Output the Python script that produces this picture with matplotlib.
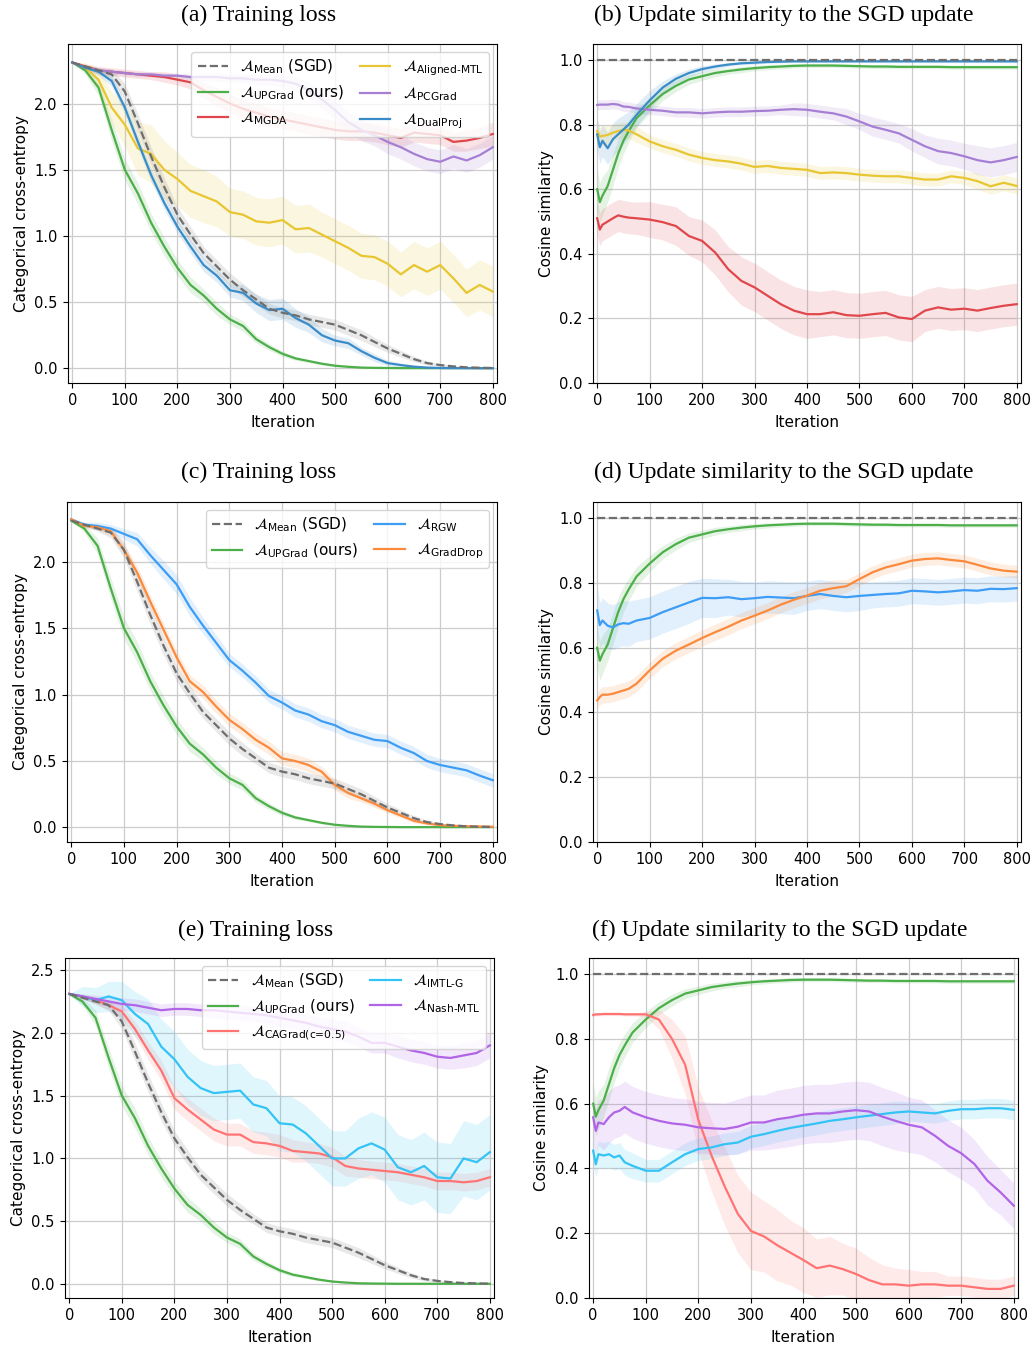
import numpy as np
import matplotlib
matplotlib.use('Agg')
import matplotlib.pyplot as plt

loss_x = list(range(0, 801, 25))
sim_x = [0, 5, 10, 20, 30, 40, 50, 60, 75] + list(range(100, 801, 25))

# ---- training loss (shared by a, c, e) ----
mean_loss = [2.31, 2.28, 2.25, 2.22, 2.09, 1.85, 1.60, 1.37, 1.16, 1.01, 0.87, 0.77, 0.67, 0.59, 0.52, 0.45, 0.42,
             0.40, 0.37, 0.35, 0.33, 0.29, 0.25, 0.20, 0.15, 0.11, 0.07, 0.04, 0.025, 0.015, 0.008, 0.005, 0.003]
mean_loss_band = [0.0, 0.01, 0.02, 0.04, 0.06, 0.07, 0.07, 0.07, 0.06, 0.06, 0.05, 0.05, 0.05, 0.05, 0.04, 0.04, 0.04,
                  0.04, 0.04, 0.04, 0.04, 0.04, 0.04, 0.035, 0.03, 0.025, 0.02, 0.015, 0.01, 0.008, 0.005, 0.004, 0.003]
upgrad_loss = [2.31, 2.25, 2.12, 1.80, 1.50, 1.32, 1.10, 0.92, 0.76, 0.63, 0.55, 0.45, 0.37, 0.32, 0.22, 0.16, 0.11,
               0.075, 0.055, 0.035, 0.02, 0.012, 0.006, 0.004, 0.003, 0.002, 0.002, 0.002, 0.002, 0.002, 0.002, 0.002, 0.002]
upgrad_loss_band = [0.0, 0.03, 0.06, 0.08, 0.08, 0.08, 0.07, 0.07, 0.06, 0.06, 0.05, 0.05, 0.04, 0.04, 0.03, 0.025, 0.02,
                    0.015, 0.012, 0.01, 0.008, 0.006, 0.005, 0.004, 0.003, 0.003, 0.003, 0.003, 0.003, 0.003, 0.003, 0.003, 0.003]

# (a)
mgda_loss = [2.31, 2.28, 2.25, 2.24, 2.23, 2.22, 2.21, 2.20, 2.18, 2.16, 2.10, 2.05, 2.00, 1.96, 1.93, 1.90, 1.88,
             1.86, 1.84, 1.82, 1.80, 1.79, 1.79, 1.78, 1.76, 1.74, 1.78, 1.77, 1.76, 1.71, 1.72, 1.74, 1.77]
mgda_loss_band = [0.0, 0.02, 0.03, 0.03, 0.03, 0.03, 0.03, 0.04, 0.04, 0.05, 0.06, 0.07, 0.07, 0.07, 0.07, 0.07, 0.07,
                  0.07, 0.07, 0.07, 0.07, 0.07, 0.07, 0.07, 0.07, 0.07, 0.07, 0.07, 0.07, 0.07, 0.08, 0.08, 0.09]
aligned_loss = [2.31, 2.27, 2.18, 1.97, 1.84, 1.66, 1.62, 1.50, 1.43, 1.34, 1.30, 1.26, 1.18, 1.16, 1.11, 1.10, 1.12,
                1.05, 1.06, 1.01, 0.96, 0.91, 0.85, 0.84, 0.79, 0.71, 0.78, 0.73, 0.78, 0.68, 0.57, 0.63, 0.58]
aligned_loss_band = [0.0, 0.04, 0.08, 0.12, 0.16, 0.2, 0.22, 0.22, 0.2, 0.2, 0.2, 0.19, 0.18, 0.18, 0.18, 0.18, 0.18,
                     0.18, 0.18, 0.17, 0.17, 0.17, 0.17, 0.17, 0.17, 0.17, 0.18, 0.18, 0.18, 0.18, 0.18, 0.19, 0.19]
pcgrad_loss = [2.31, 2.27, 2.25, 2.24, 2.23, 2.22, 2.22, 2.21, 2.21, 2.20, 2.20, 2.20, 2.19, 2.19, 2.18, 2.18, 2.17,
               2.15, 2.10, 2.03, 1.95, 1.86, 1.80, 1.76, 1.71, 1.67, 1.62, 1.58, 1.56, 1.60, 1.57, 1.61, 1.67]
pcgrad_loss_band = [0.0, 0.02, 0.02, 0.02, 0.02, 0.02, 0.02, 0.02, 0.02, 0.02, 0.03, 0.03, 0.03, 0.03, 0.04, 0.04, 0.05,
                    0.05, 0.06, 0.07, 0.07, 0.08, 0.08, 0.08, 0.09, 0.09, 0.09, 0.09, 0.09, 0.09, 0.09, 0.09, 0.09]
dualproj_loss = [2.31, 2.27, 2.24, 2.17, 1.97, 1.71, 1.46, 1.25, 1.07, 0.92, 0.78, 0.70, 0.59, 0.57, 0.49, 0.44, 0.45,
                 0.38, 0.33, 0.25, 0.21, 0.19, 0.13, 0.08, 0.04, 0.025, 0.013, 0.006, 0.003, 0.002, 0.002, 0.001, 0.001]
dualproj_loss_band = [0.0, 0.02, 0.03, 0.04, 0.05, 0.05, 0.05, 0.05, 0.05, 0.05, 0.05, 0.05, 0.05, 0.06, 0.07, 0.08, 0.08,
                      0.07, 0.06, 0.05, 0.04, 0.04, 0.03, 0.03, 0.02, 0.015, 0.01, 0.008, 0.005, 0.004, 0.003, 0.002, 0.002]

# (c)
rgw_loss = [2.32, 2.28, 2.27, 2.25, 2.21, 2.17, 2.05, 1.94, 1.83, 1.66, 1.52, 1.39, 1.26, 1.18, 1.09, 0.99, 0.94,
            0.88, 0.85, 0.80, 0.77, 0.72, 0.69, 0.66, 0.65, 0.60, 0.56, 0.50, 0.47, 0.45, 0.43, 0.39, 0.355]
rgw_loss_band = [0.0, 0.02, 0.03, 0.03, 0.04, 0.05, 0.06, 0.07, 0.07, 0.07, 0.06, 0.06, 0.05, 0.05, 0.05, 0.05, 0.05,
                 0.05, 0.05, 0.05, 0.05, 0.05, 0.05, 0.05, 0.05, 0.05, 0.05, 0.05, 0.05, 0.05, 0.05, 0.05, 0.05]
graddrop_loss = [2.32, 2.27, 2.26, 2.23, 2.09, 1.92, 1.70, 1.49, 1.28, 1.10, 1.02, 0.91, 0.81, 0.74, 0.66, 0.60, 0.52,
                 0.50, 0.47, 0.42, 0.32, 0.26, 0.22, 0.18, 0.13, 0.09, 0.05, 0.03, 0.017, 0.012, 0.009, 0.007, 0.005]
graddrop_loss_band = [0.0, 0.02, 0.02, 0.03, 0.04, 0.05, 0.05, 0.05, 0.05, 0.05, 0.05, 0.05, 0.05, 0.05, 0.05, 0.05, 0.05,
                      0.05, 0.05, 0.04, 0.04, 0.04, 0.03, 0.03, 0.02, 0.02, 0.015, 0.01, 0.008, 0.005, 0.004, 0.003, 0.003]

# (e)
cagrad_loss = [2.31, 2.29, 2.26, 2.22, 2.17, 2.03, 1.86, 1.70, 1.48, 1.39, 1.31, 1.23, 1.19, 1.19, 1.13, 1.12, 1.10,
               1.06, 1.05, 1.04, 1.01, 0.94, 0.92, 0.91, 0.90, 0.89, 0.87, 0.85, 0.82, 0.82, 0.81, 0.82, 0.85]
cagrad_loss_band = [0.0, 0.02, 0.03, 0.04, 0.05, 0.06, 0.07, 0.08, 0.09, 0.09, 0.09, 0.09, 0.09, 0.09, 0.09, 0.09, 0.09,
                    0.09, 0.08, 0.08, 0.08, 0.08, 0.07, 0.07, 0.07, 0.07, 0.07, 0.07, 0.07, 0.07, 0.07, 0.07, 0.07]
imtl_loss = [2.31, 2.29, 2.26, 2.29, 2.26, 2.15, 2.07, 1.89, 1.79, 1.65, 1.56, 1.52, 1.53, 1.54, 1.43, 1.40, 1.28,
             1.27, 1.20, 1.10, 1.00, 1.00, 1.08, 1.12, 1.07, 0.93, 0.89, 0.94, 0.85, 0.84, 1.00, 0.97, 1.05]
imtl_loss_band = [0.0, 0.08, 0.1, 0.12, 0.15, 0.18, 0.2, 0.22, 0.22, 0.22, 0.22, 0.22, 0.22, 0.22, 0.22, 0.22, 0.22,
                  0.22, 0.22, 0.22, 0.22, 0.22, 0.24, 0.25, 0.26, 0.26, 0.26, 0.27, 0.28, 0.28, 0.3, 0.3, 0.3]
nash_loss = [2.31, 2.29, 2.27, 2.25, 2.23, 2.22, 2.20, 2.18, 2.19, 2.19, 2.18, 2.18, 2.17, 2.16, 2.15, 2.14, 2.12,
             2.10, 2.08, 2.05, 2.03, 2.01, 1.97, 1.92, 1.92, 1.89, 1.86, 1.84, 1.81, 1.80, 1.82, 1.84, 1.90]
nash_loss_band = [0.0, 0.02, 0.03, 0.04, 0.05, 0.05, 0.05, 0.05, 0.05, 0.05, 0.05, 0.06, 0.06, 0.06, 0.06, 0.07, 0.07,
                  0.07, 0.07, 0.08, 0.08, 0.08, 0.08, 0.08, 0.08, 0.09, 0.09, 0.09, 0.09, 0.09, 0.1, 0.1, 0.1]

# ---- cosine similarity to the SGD update (shared: mean, upgrad) ----
mean_sim_x = [0, 800]
mean_sim = [1.0, 1.0]
upgrad_sim = [0.60, 0.56, 0.58, 0.61, 0.66, 0.71, 0.75, 0.78, 0.82, 0.86, 0.895, 0.92, 0.94, 0.95, 0.96, 0.966, 0.971,
              0.975, 0.978, 0.98, 0.982, 0.983, 0.983, 0.983, 0.982, 0.981, 0.98, 0.98, 0.979, 0.979, 0.979, 0.979,
              0.978, 0.978, 0.978, 0.978, 0.978, 0.978]
upgrad_sim_band = [0.06, 0.06, 0.06, 0.05, 0.05, 0.045, 0.04, 0.035, 0.03, 0.025, 0.02, 0.018, 0.015, 0.013, 0.012, 0.01,
                   0.01, 0.008, 0.008, 0.007, 0.007, 0.006, 0.006, 0.006, 0.006, 0.006, 0.006, 0.006, 0.006, 0.006,
                   0.006, 0.006, 0.006, 0.006, 0.006, 0.006, 0.006, 0.006]

# (b)
mgda_sim = [0.51, 0.475, 0.49, 0.50, 0.51, 0.519, 0.515, 0.512, 0.51, 0.506, 0.498, 0.486, 0.455, 0.44, 0.404, 0.352,
            0.316, 0.296, 0.27, 0.244, 0.224, 0.213, 0.213, 0.219, 0.21, 0.208, 0.213, 0.217, 0.203, 0.198, 0.224,
            0.234, 0.227, 0.23, 0.224, 0.232, 0.239, 0.244]
mgda_sim_band = [0.05, 0.05, 0.05, 0.05, 0.05, 0.05, 0.05, 0.05, 0.05, 0.055, 0.055, 0.06, 0.06, 0.065, 0.07, 0.07,
                 0.075, 0.075, 0.075, 0.075, 0.075, 0.075, 0.07, 0.07, 0.07, 0.07, 0.07, 0.07, 0.07, 0.07, 0.065,
                 0.065, 0.065, 0.065, 0.065, 0.065, 0.065, 0.065]
aligned_sim = [0.78, 0.763, 0.765, 0.768, 0.775, 0.78, 0.784, 0.782, 0.77, 0.748, 0.733, 0.722, 0.707, 0.697, 0.69,
               0.686, 0.679, 0.669, 0.672, 0.666, 0.663, 0.66, 0.65, 0.652, 0.65, 0.645, 0.642, 0.64, 0.64, 0.635,
               0.63, 0.63, 0.64, 0.635, 0.625, 0.609, 0.62, 0.61]
aligned_sim_band = [0.03, 0.03, 0.03, 0.03, 0.025, 0.025, 0.025, 0.025, 0.025, 0.02, 0.02, 0.02, 0.02, 0.02, 0.02, 0.02,
                    0.02, 0.02, 0.02, 0.02, 0.02, 0.02, 0.02, 0.02, 0.02, 0.02, 0.02, 0.02, 0.02, 0.02, 0.02, 0.02,
                    0.02, 0.02, 0.025, 0.025, 0.025, 0.025]
pcgrad_sim = [0.861, 0.862, 0.862, 0.862, 0.864, 0.862, 0.856, 0.855, 0.85, 0.846, 0.843, 0.838, 0.838, 0.835, 0.838,
              0.84, 0.84, 0.842, 0.843, 0.846, 0.848, 0.846, 0.84, 0.835, 0.825, 0.81, 0.794, 0.784, 0.773, 0.753,
              0.733, 0.718, 0.712, 0.702, 0.69, 0.683, 0.69, 0.70]
pcgrad_sim_band = [0.015, 0.015, 0.015, 0.015, 0.015, 0.015, 0.015, 0.015, 0.015, 0.015, 0.015, 0.015, 0.015, 0.015,
                   0.015, 0.015, 0.015, 0.015, 0.015, 0.015, 0.02, 0.02, 0.02, 0.02, 0.025, 0.025, 0.03, 0.03, 0.03,
                   0.035, 0.035, 0.04, 0.04, 0.04, 0.045, 0.045, 0.045, 0.045]
dualproj_sim = [0.77, 0.73, 0.75, 0.727, 0.755, 0.77, 0.785, 0.80, 0.83, 0.875, 0.915, 0.942, 0.96, 0.972, 0.98, 0.986,
                0.99, 0.992, 0.994, 0.995, 0.996, 0.996, 0.996, 0.996, 0.996, 0.996, 0.996, 0.996, 0.996, 0.996,
                0.996, 0.996, 0.996, 0.996, 0.996, 0.996, 0.996, 0.996]
dualproj_sim_band = [0.05, 0.05, 0.05, 0.05, 0.05, 0.05, 0.045, 0.04, 0.035, 0.03, 0.02, 0.015, 0.012, 0.01, 0.008,
                     0.006, 0.005, 0.005, 0.004, 0.004, 0.004, 0.004, 0.004, 0.004, 0.004, 0.004, 0.004, 0.004, 0.004,
                     0.004, 0.004, 0.004, 0.004, 0.004, 0.004, 0.004, 0.004, 0.004]

# (d)
rgw_sim = [0.715, 0.67, 0.684, 0.668, 0.663, 0.672, 0.676, 0.674, 0.684, 0.692, 0.71, 0.725, 0.74, 0.754, 0.753, 0.756,
           0.75, 0.753, 0.757, 0.755, 0.753, 0.76, 0.766, 0.76, 0.756, 0.76, 0.763, 0.766, 0.768, 0.776, 0.774,
           0.771, 0.774, 0.778, 0.776, 0.782, 0.781, 0.784]
rgw_sim_band = [0.07, 0.07, 0.07, 0.07, 0.07, 0.07, 0.07, 0.07, 0.065, 0.065, 0.065, 0.065, 0.065, 0.06, 0.06, 0.055,
                0.055, 0.05, 0.05, 0.05, 0.05, 0.045, 0.045, 0.045, 0.045, 0.045, 0.04, 0.04, 0.04, 0.04, 0.04, 0.04,
                0.04, 0.04, 0.04, 0.04, 0.04, 0.04]
graddrop_sim = [0.437, 0.448, 0.455, 0.455, 0.458, 0.463, 0.468, 0.473, 0.489, 0.53, 0.566, 0.591, 0.61, 0.63, 0.648,
                0.665, 0.684, 0.699, 0.715, 0.733, 0.748, 0.761, 0.776, 0.784, 0.79, 0.812, 0.833, 0.848, 0.858,
                0.869, 0.874, 0.876, 0.871, 0.867, 0.856, 0.845, 0.838, 0.835]
graddrop_sim_band = [0.025, 0.025, 0.025, 0.025, 0.025, 0.025, 0.025, 0.025, 0.025, 0.025, 0.025, 0.025, 0.025, 0.025,
                     0.025, 0.025, 0.025, 0.025, 0.025, 0.025, 0.025, 0.025, 0.025, 0.025, 0.02, 0.02, 0.02, 0.02,
                     0.02, 0.02, 0.02, 0.02, 0.02, 0.02, 0.02, 0.02, 0.02, 0.02]

# (f)
cagrad_sim = [0.874, 0.876, 0.876, 0.877, 0.877, 0.877, 0.877, 0.876, 0.876, 0.876, 0.86, 0.80, 0.72, 0.55, 0.44,
              0.345, 0.26, 0.207, 0.19, 0.163, 0.14, 0.117, 0.092, 0.10, 0.089, 0.074, 0.055, 0.042, 0.042, 0.038,
              0.042, 0.042, 0.038, 0.038, 0.033, 0.028, 0.028, 0.038]
cagrad_sim_band = [0.005, 0.005, 0.005, 0.005, 0.005, 0.005, 0.005, 0.005, 0.005, 0.008, 0.03, 0.06, 0.09, 0.1, 0.11,
                   0.12, 0.12, 0.12, 0.11, 0.11, 0.1, 0.1, 0.09, 0.09, 0.08, 0.08, 0.07, 0.06, 0.05, 0.05, 0.04,
                   0.04, 0.03, 0.03, 0.03, 0.03, 0.03, 0.03]
imtl_sim = [0.455, 0.413, 0.444, 0.44, 0.444, 0.434, 0.44, 0.419, 0.408, 0.393, 0.393, 0.419, 0.444, 0.46, 0.465, 0.475,
            0.48, 0.498, 0.506, 0.516, 0.525, 0.532, 0.539, 0.547, 0.552, 0.558, 0.563, 0.568, 0.573, 0.576, 0.573,
            0.57, 0.578, 0.583, 0.583, 0.586, 0.586, 0.581]
imtl_sim_band = [0.04, 0.04, 0.04, 0.04, 0.04, 0.04, 0.04, 0.04, 0.04, 0.035, 0.035, 0.035, 0.035, 0.035, 0.035, 0.035,
                 0.035, 0.035, 0.035, 0.035, 0.035, 0.035, 0.035, 0.035, 0.035, 0.035, 0.035, 0.035, 0.035, 0.03,
                 0.03, 0.03, 0.03, 0.03, 0.03, 0.03, 0.03, 0.03]
nash_sim = [0.558, 0.516, 0.542, 0.537, 0.558, 0.573, 0.578, 0.59, 0.573, 0.558, 0.547, 0.539, 0.535, 0.527, 0.524,
            0.522, 0.529, 0.542, 0.542, 0.552, 0.558, 0.566, 0.57, 0.57, 0.576, 0.58, 0.576, 0.56, 0.547, 0.535,
            0.527, 0.501, 0.47, 0.447, 0.414, 0.362, 0.326, 0.285]
nash_sim_band = [0.06, 0.07, 0.07, 0.08, 0.08, 0.08, 0.08, 0.08, 0.08, 0.08, 0.08, 0.08, 0.08, 0.08, 0.08, 0.08, 0.085,
                 0.085, 0.085, 0.09, 0.09, 0.09, 0.09, 0.09, 0.09, 0.09, 0.09, 0.09, 0.09, 0.085, 0.085, 0.08, 0.08,
                 0.08, 0.075, 0.075, 0.07, 0.07]

C_MEAN = '#6e6e6e'
C_UPGRAD = '#4daf4a'
C_MGDA = '#e0474c'
C_ALIGNED = '#e8c631'
C_PCGRAD = '#a67fd4'
C_DUALPROJ = '#3a8cc8'
C_RGW = '#3d9df5'
C_GRADDROP = '#fb8a3c'
C_CAGRAD = '#ff7373'
C_IMTL = '#33c3f5'
C_NASH = '#b064e6'


def lbl(name, extra=''):
    return r'$\mathcal{A}_{\text{' + name + '}}$' + extra


def curve(ax, x, y, band, color, label, ls='-', z=2):
    y = np.array(y)
    if band is not None:
        b = np.array(band)
        ax.fill_between(x, y - b, y + b, color=color, alpha=0.15, lw=0, zorder=1)
    line, = ax.plot(x, y, color=color, lw=1.6, ls=ls, label=label, zorder=z)
    return line


def style_axes(ax, ylabel, ylim, yticks):
    ax.set_xlim(-8, 808)
    ax.set_ylim(*ylim)
    ax.set_xticks(range(0, 801, 100))
    ax.set_yticks(yticks)
    ax.tick_params(labelsize=10.5, pad=4)
    ax.grid(True, color='#cccccc', lw=0.9)
    ax.set_axisbelow(True)
    ax.set_xlabel('Iteration', fontsize=11, labelpad=5)
    ax.set_ylabel(ylabel, fontsize=11)


fig = plt.figure(figsize=(10.34, 13.47), dpi=100)

title_kw = dict(fontsize=17, family='Liberation Serif', ha='center', va='center')
loss_ticks = [0.0, 0.5, 1.0, 1.5, 2.0]
sim_ticks = [0.0, 0.2, 0.4, 0.6, 0.8, 1.0]

# (a)
ax = fig.add_axes([0.0658, 0.7157, 0.4149, 0.2517])
h_up = curve(ax, loss_x, upgrad_loss, upgrad_loss_band, C_UPGRAD, lbl('UPGrad', ' (ours)'))
h_mg = curve(ax, loss_x, mgda_loss, mgda_loss_band, C_MGDA, lbl('MGDA'))
h_al = curve(ax, loss_x, aligned_loss, aligned_loss_band, C_ALIGNED, lbl('Aligned-MTL'))
h_pc = curve(ax, loss_x, pcgrad_loss, pcgrad_loss_band, C_PCGRAD, lbl('PCGrad'))
h_dp = curve(ax, loss_x, dualproj_loss, dualproj_loss_band, C_DUALPROJ, lbl('DualProj'))
h_me = curve(ax, loss_x, mean_loss, mean_loss_band, C_MEAN, lbl('Mean', ' (SGD)'), ls='--', z=3)
style_axes(ax, 'Categorical cross-entropy', (-0.11, 2.45), loss_ticks)
ax.legend(handles=[h_me, h_up, h_mg, h_al, h_pc, h_dp], ncol=2, fontsize=11, loc='upper right',
          columnspacing=1.0)
fig.text(0.2505, 0.9885, '(a) Training loss', **title_kw)

# (b)
ax = fig.add_axes([0.5735, 0.7157, 0.4139, 0.2517])
curve(ax, sim_x, upgrad_sim, upgrad_sim_band, C_UPGRAD, None)
curve(ax, sim_x, mgda_sim, mgda_sim_band, C_MGDA, None)
curve(ax, sim_x, aligned_sim, aligned_sim_band, C_ALIGNED, None)
curve(ax, sim_x, pcgrad_sim, pcgrad_sim_band, C_PCGRAD, None)
curve(ax, sim_x, dualproj_sim, dualproj_sim_band, C_DUALPROJ, None)
curve(ax, mean_sim_x, mean_sim, None, C_MEAN, None, ls='--', z=3)
style_axes(ax, 'Cosine similarity', (0, 1.05), sim_ticks)
fig.text(0.758, 0.9885, '(b) Update similarity to the SGD update', **title_kw)

# (c)
ax = fig.add_axes([0.0648, 0.3749, 0.4159, 0.2524])
h_up = curve(ax, loss_x, upgrad_loss, upgrad_loss_band, C_UPGRAD, lbl('UPGrad', ' (ours)'))
h_rg = curve(ax, loss_x, rgw_loss, rgw_loss_band, C_RGW, lbl('RGW'))
h_gd = curve(ax, loss_x, graddrop_loss, graddrop_loss_band, C_GRADDROP, lbl('GradDrop'))
h_me = curve(ax, loss_x, mean_loss, mean_loss_band, C_MEAN, lbl('Mean', ' (SGD)'), ls='--', z=3)
style_axes(ax, 'Categorical cross-entropy', (-0.11, 2.45), loss_ticks)
ax.legend(handles=[h_me, h_up, h_rg, h_gd], ncol=2, fontsize=11, loc='upper right', columnspacing=1.0)
fig.text(0.2505, 0.6492, '(c) Training loss', **title_kw)

# (d)
ax = fig.add_axes([0.5735, 0.3749, 0.4139, 0.2524])
curve(ax, sim_x, upgrad_sim, upgrad_sim_band, C_UPGRAD, None)
curve(ax, sim_x, rgw_sim, rgw_sim_band, C_RGW, None)
curve(ax, sim_x, graddrop_sim, graddrop_sim_band, C_GRADDROP, None)
curve(ax, mean_sim_x, mean_sim, None, C_MEAN, None, ls='--', z=3)
style_axes(ax, 'Cosine similarity', (0, 1.05), sim_ticks)
fig.text(0.758, 0.6492, '(d) Update similarity to the SGD update', **title_kw)

# (e)
ax = fig.add_axes([0.0629, 0.0364, 0.4149, 0.2524])
h_up = curve(ax, loss_x, upgrad_loss, upgrad_loss_band, C_UPGRAD, lbl('UPGrad', ' (ours)'))
h_ca = curve(ax, loss_x, cagrad_loss, cagrad_loss_band, C_CAGRAD, lbl('CAGrad(c=0.5)'))
h_im = curve(ax, loss_x, imtl_loss, imtl_loss_band, C_IMTL, lbl('IMTL-G'))
h_na = curve(ax, loss_x, nash_loss, nash_loss_band, C_NASH, lbl('Nash-MTL'))
h_me = curve(ax, loss_x, mean_loss, mean_loss_band, C_MEAN, lbl('Mean', ' (SGD)'), ls='--', z=3)
style_axes(ax, 'Categorical cross-entropy', (-0.111, 2.596), [0.0, 0.5, 1.0, 1.5, 2.0, 2.5])
ax.legend(handles=[h_me, h_up, h_ca, h_im, h_na], ncol=2, fontsize=11, loc='upper right', columnspacing=1.0)
fig.text(0.2476, 0.3092, '(e) Training loss', **title_kw)

# (f)
ax = fig.add_axes([0.5696, 0.0364, 0.4149, 0.2524])
curve(ax, sim_x, upgrad_sim, upgrad_sim_band, C_UPGRAD, None)
curve(ax, sim_x, cagrad_sim, cagrad_sim_band, C_CAGRAD, None)
curve(ax, sim_x, imtl_sim, imtl_sim_band, C_IMTL, None)
curve(ax, sim_x, nash_sim, nash_sim_band, C_NASH, None)
curve(ax, mean_sim_x, mean_sim, None, C_MEAN, None, ls='--', z=3)
style_axes(ax, 'Cosine similarity', (0, 1.05), sim_ticks)
fig.text(0.7544, 0.3092, '(f) Update similarity to the SGD update', **title_kw)

fig.savefig('out.png', dpi=100)
